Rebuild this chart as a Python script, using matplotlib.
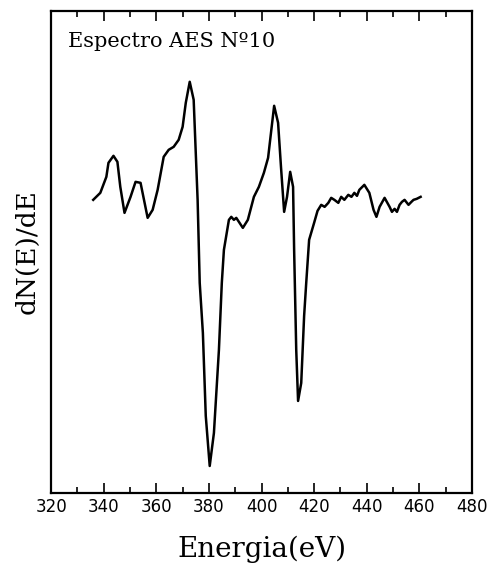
import matplotlib.pyplot as plt
from matplotlib.ticker import MultipleLocator

# AES spectrum (energy in eV, derivative in arbitrary units)
energy = [336.0, 338.7, 341.0, 341.8, 343.7, 345.2, 346.3, 347.9, 350.2, 352.1,
          354.0, 356.7, 358.6, 360.5, 362.8, 364.7, 366.6, 368.5, 370.0, 371.2,
          372.7, 374.2, 375.7, 376.5, 377.7, 378.8, 380.3, 381.9, 383.8, 384.9,
          385.7, 387.6, 388.5, 389.5, 390.4, 391.4, 392.9, 394.8, 397.1, 399.0,
          400.9, 402.5, 403.6, 404.8, 406.3, 407.4, 408.6, 409.7, 410.9, 412.0,
          412.4, 413.2, 413.9, 415.1, 416.2, 417.0, 418.1, 420.0, 421.3, 422.7,
          424.0, 425.4, 426.5, 427.7, 429.2, 430.3, 431.5, 433.0, 434.2, 435.3,
          436.3, 437.2, 439.1, 441.0, 442.6, 443.7, 444.9, 446.8, 448.7, 449.6,
          450.6, 451.5, 452.5, 453.4, 454.4, 455.9, 457.0, 457.8, 459.0, 460.5]
signal = [293, 300, 316, 330, 337, 331, 306, 280, 296, 311,
          310, 275, 283, 303, 336, 343, 346, 353, 366, 390,
          411, 393, 293, 210, 160, 77, 27, 60, 143, 210,
          243, 273, 276, 273, 275, 271, 265, 273, 296, 306,
          320, 335, 360, 387, 370, 326, 281, 296, 321, 306,
          243, 143, 92, 110, 177, 210, 253, 270, 282, 288,
          286, 290, 295, 293, 290, 296, 293, 298, 296, 300,
          297, 303, 308, 300, 283, 276, 286, 295, 286, 281,
          284, 281, 288, 291, 293, 288, 291, 293, 294, 296]

fig = plt.figure(figsize=(4.87, 5.66), dpi=100)
ax = fig.add_axes([0.105, 0.129, 0.864, 0.852])

ax.plot(energy, signal, color='black', linewidth=1.8)

ax.set_xlim(320, 480)
ax.set_ylim(0, 482)
ax.xaxis.set_major_locator(MultipleLocator(20))
ax.xaxis.set_minor_locator(MultipleLocator(10))
ax.set_yticks([])
ax.tick_params(axis='x', which='both', direction='in', top=True, width=1.2,
               labelsize=12)
ax.tick_params(axis='x', which='major', length=7)
ax.tick_params(axis='x', which='minor', length=4)
for s in ax.spines.values():
    s.set_linewidth(1.6)

ax.set_xlabel('Energia(eV)', fontsize=20, family='DejaVu Serif',
              fontweight='light', labelpad=14)
ax.set_ylabel('dN(E)/dE', fontsize=19, family='DejaVu Serif', labelpad=8)
ax.text(0.04, 0.955, 'Espectro AES Nº10', transform=ax.transAxes,
        fontsize=15, family='DejaVu Serif', va='top')

fig.savefig('out.png', dpi=100)
